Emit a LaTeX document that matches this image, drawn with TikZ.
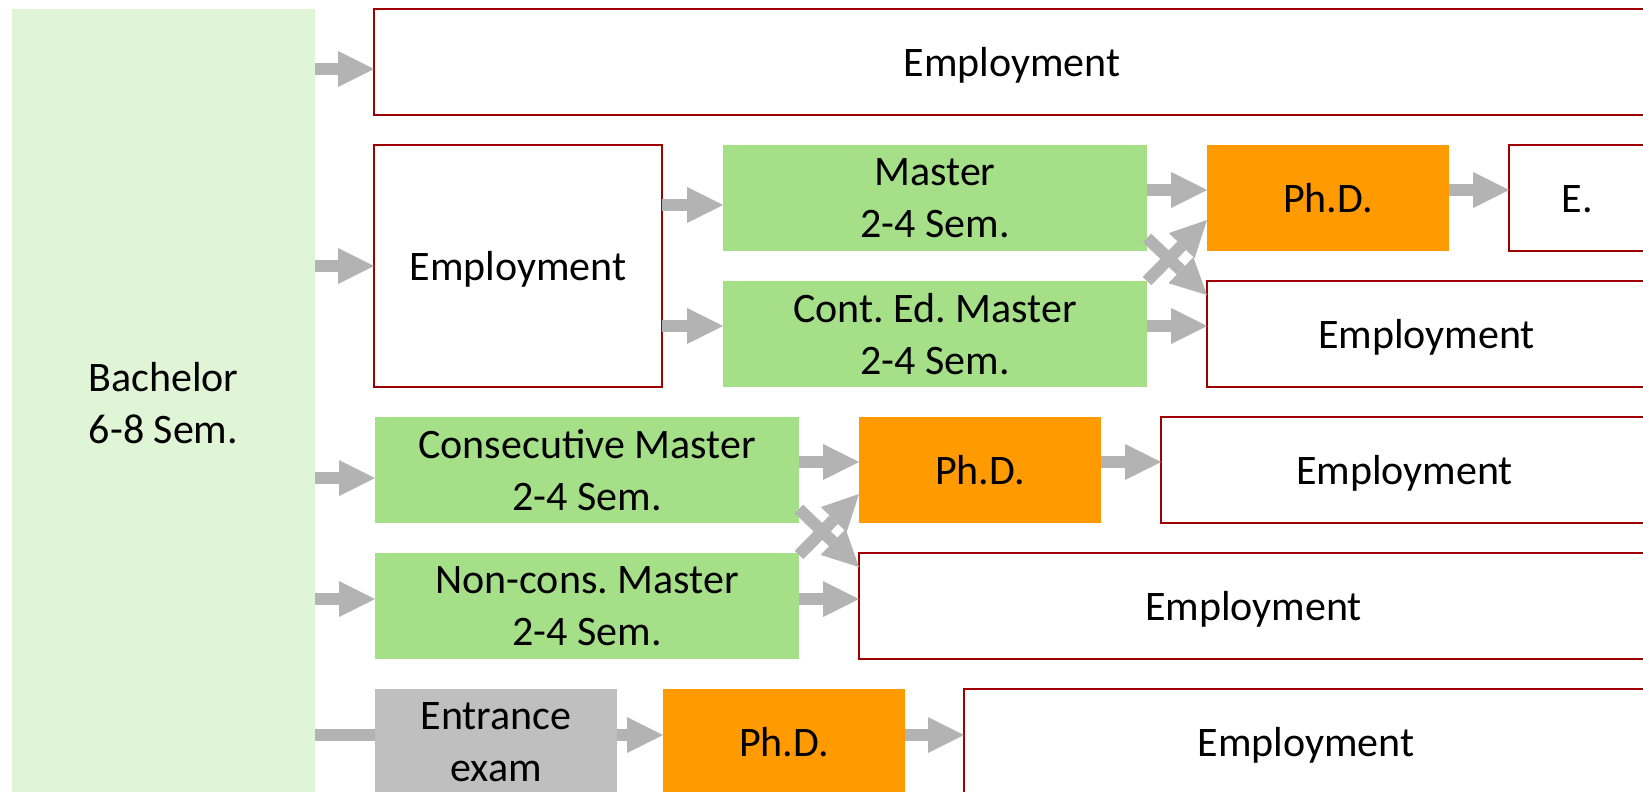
\documentclass[tikz,border=0pt]{standalone}
\usepackage{fontspec}
\setmainfont{Carlito}
\usetikzlibrary{arrows.meta}
\definecolor{bachfill}{HTML}{E0F4D6}
\definecolor{greenfill}{HTML}{A5E088}
\definecolor{phdfill}{HTML}{FF9A00}
\definecolor{examfill}{HTML}{BFBFBF}
\definecolor{arrgray}{HTML}{B3B3B3}
\definecolor{empred}{HTML}{A00000}
\begin{document}
\frenchspacing
\begin{tikzpicture}[x=0.5pt,y=-0.5pt,
  every node/.style={font=\fontsize{21}{26}\selectfont, align=center, inner sep=0pt, outer sep=0pt},
  oneline/.style={text height=14pt, text depth=0pt},
  bachbox/.style={fill=bachfill, minimum width=151.5pt, minimum height=394pt},
  empbox/.style={draw=empred, line width=1pt, fill=white, minimum height=53pt, oneline},
  mastbox/.style={fill=greenfill, minimum width=212pt, minimum height=53pt},
  phdbox/.style={fill=phdfill, minimum width=121pt, minimum height=53pt, oneline},
  exambox/.style={fill=examfill, minimum width=121pt, minimum height=53pt},
  arr/.style={draw=arrgray, line width=6pt, -{Triangle[length=18pt,width=18pt,line width=0pt]}},
  bar/.style={draw=arrgray, line width=6pt}
]
\useasboundingbox (0,0) rectangle (1643,792);

% nodes
\node[bachbox] (bach) at (163.5,403) {Bachelor\\6-8 Sem.};
\node[empbox, minimum width=638pt] (e1) at (1012,62) {Employment};
\node[empbox, minimum width=144pt, minimum height=121pt] (e2) at (518,266) {Employment};
\node[mastbox] (m1) at (935,198) {Master\\2-4 Sem.};
\node[mastbox] (m2) at (935,334) {Cont. Ed. Master\\2-4 Sem.};
\node[phdbox] (p1) at (1328,198) {Ph.D.};
\node[empbox, minimum width=68.5pt] (eE) at (1577.5,198) {E.};
\node[empbox, minimum width=219.5pt] (e3) at (1426.5,334) {Employment};
\node[mastbox] (cm) at (587,470) {Consecutive Master\\2-4 Sem.};
\node[mastbox] (nm) at (587,606) {Non-cons. Master\\2-4 Sem.};
\node[phdbox] (p2) at (980,470) {Ph.D.};
\node[empbox, minimum width=243.5pt] (e4) at (1404.5,470) {Employment};
\node[empbox, minimum width=394.5pt] (e5) at (1253.5,606) {Employment};
\node[exambox] (ex) at (496,742) {Entrance\\exam};
\node[phdbox] (p3) at (784,742) {Ph.D.};
\node[empbox, minimum width=342pt] (e6) at (1306,742) {Employment};

% arrows from Bachelor
\coordinate (t1) at ([yshift=-3.5pt]e1.west);
\draw[arr] (bach.east |- t1) -- (t1);
\draw[arr] (bach.east |- e2.west) -- (e2.west);
\coordinate (t3) at ([yshift=-4pt]cm.west);
\draw[arr] (bach.east |- t3) -- (t3);
\coordinate (t4) at ([yshift=3.5pt]nm.west);
\draw[arr] (bach.east |- t4) -- (t4);
\coordinate (t5) at ([yshift=3.5pt]ex.west);
\draw[bar] (bach.east |- t5) -- (t5);

% row 2
\coordinate (t6) at ([yshift=-3.5pt]m1.west);
\draw[arr] (e2.east |- t6) -- (t6);
\coordinate (t7) at ([yshift=4pt]m2.west);
\draw[arr] (e2.east |- t7) -- (t7);
\draw[arr] ([yshift=4pt]m1.east) -- ([yshift=4pt]p1.west);
\draw[arr] ([yshift=4pt]p1.east) -- ([yshift=4pt]eE.west);
\draw[arr] ([yshift=4pt]m2.east) -- ([yshift=4pt]e3.west);
\draw[arr] ([yshift=6.5pt]m1.south east) -- ([yshift=-7pt]e3.north west);
\draw[arr] (m2.north east) -- ([yshift=15.5pt]p1.south west);

% row 3
\draw[arr] ([yshift=4pt]cm.east) -- ([yshift=4pt]p2.west);
\draw[arr] ([yshift=4pt]p2.east) -- ([yshift=4pt]e4.west);
\draw[arr] ([yshift=3.5pt]nm.east) -- ([yshift=3.5pt]e5.west);
\draw[arr] ([yshift=7pt]cm.south east) -- ([yshift=-7pt]e5.north west);
\draw[arr] ([yshift=-1pt]nm.north east) -- ([yshift=14.5pt]p2.south west);

% row 5
\draw[arr] ([yshift=3.5pt]ex.east) -- ([yshift=3.5pt]p3.west);
\draw[arr] ([yshift=3.5pt]p3.east) -- ([yshift=3.5pt]e6.west);
\end{tikzpicture}
\end{document}
